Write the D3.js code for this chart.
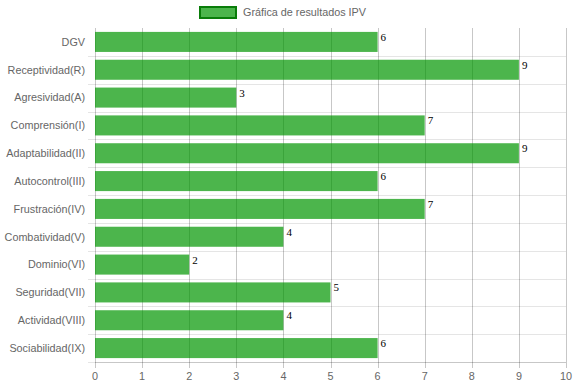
<!DOCTYPE html>
<html><head><meta charset="utf-8">
<script src="https://cdn.jsdelivr.net/npm/d3@7"></script>
<style>body{margin:0;background:#fff;}svg{display:block;}</style>
</head><body>
<script>
const categories = ["DGV","Receptividad(R)","Agresividad(A)","Comprensión(I)","Adaptabilidad(II)","Autocontrol(III)","Frustración(IV)","Combatividad(V)","Dominio(VI)","Seguridad(VII)","Actividad(VIII)","Sociabilidad(IX)"];
const values = [6,9,3,7,9,6,7,4,2,5,4,6];
const xTicks = [0,1,2,3,4,5,6,7,8,9,10];
const seriesName = "Gráfica de resultados IPV";

const W = 574, H = 386;
const m = {left: 95, right: 8, top: 28, bottom: 24};
const svg = d3.select("body").append("svg").attr("width", W).attr("height", H);
const font = "'Liberation Sans', Arial, sans-serif";
const fs = 10.8;
const fill = "rgba(0,150,0,0.7)";

const x = d3.scaleLinear().domain([0,10]).range([m.left, W - m.right]);
const y = d3.scaleBand().domain(categories).range([m.top, H - m.bottom]).paddingInner(0.28).paddingOuter(0.14);
const yb = d3.scaleBand().domain(categories).range([m.top, H - m.bottom]);

const g = svg.append("g");
categories.slice(1).forEach(c => {
  g.append("line").attr("x1", m.left - 7).attr("x2", W - m.right)
    .attr("y1", Math.round(yb(c)) + 0.5).attr("y2", Math.round(yb(c)) + 0.5)
    .attr("stroke", "rgba(0,0,0,0.1)");
});
g.append("line").attr("x1", m.left - 7).attr("x2", m.left)
  .attr("y1", H - m.bottom + 0.5).attr("y2", H - m.bottom + 0.5).attr("stroke", "rgba(0,0,0,0.1)");

xTicks.forEach(t => {
  const px = Math.round(x(t)) + 0.5;
  g.append("line").attr("x1", px).attr("x2", px)
    .attr("y1", m.top).attr("y2", H - m.bottom + 6)
    .attr("stroke", "rgba(0,0,0,0.22)");
});
g.append("line").attr("x1", m.left).attr("x2", W - m.right)
  .attr("y1", H - m.bottom + 0.5).attr("y2", H - m.bottom + 0.5).attr("stroke", "rgba(0,0,0,0.22)");

svg.append("g").selectAll("rect").data(values).join("rect")
  .attr("x", x(0)).attr("y", (d,i) => y(categories[i]))
  .attr("width", d => x(d) - x(0)).attr("height", y.bandwidth())
  .attr("fill", fill);

svg.append("g").selectAll("text").data(values).join("text")
  .attr("x", d => x(d) + 3).attr("y", (d,i) => y(categories[i]) + 9)
  .attr("font-family", "'Liberation Serif', 'Times New Roman', serif").attr("font-size", 11)
  .attr("fill", "#000").text(d => d);

svg.append("g").selectAll("text").data(categories).join("text")
  .attr("x", m.left - 10).attr("y", d => yb(d) + yb.bandwidth()/2)
  .attr("dy", "0.35em").attr("text-anchor", "end")
  .attr("font-family", font).attr("font-size", fs).attr("fill", "#666").text(d => d);

svg.append("g").selectAll("text").data(xTicks).join("text")
  .attr("x", d => x(d)).attr("y", H - m.bottom + 14)
  .attr("dy", "0.35em").attr("text-anchor", "middle")
  .attr("font-family", font).attr("font-size", fs).attr("fill", "#666").text(d => d);

const lg = svg.append("g");
lg.append("rect").attr("x", 200).attr("y", 7).attr("width", 36).attr("height", 11)
  .attr("fill", fill).attr("stroke", "#0a7d0a").attr("stroke-width", 2);
lg.append("text").attr("x", 243).attr("y", 12.5).attr("dy", "0.35em")
  .attr("font-family", font).attr("font-size", fs).attr("fill", "#666").text(seriesName);
</script>
</body></html>
